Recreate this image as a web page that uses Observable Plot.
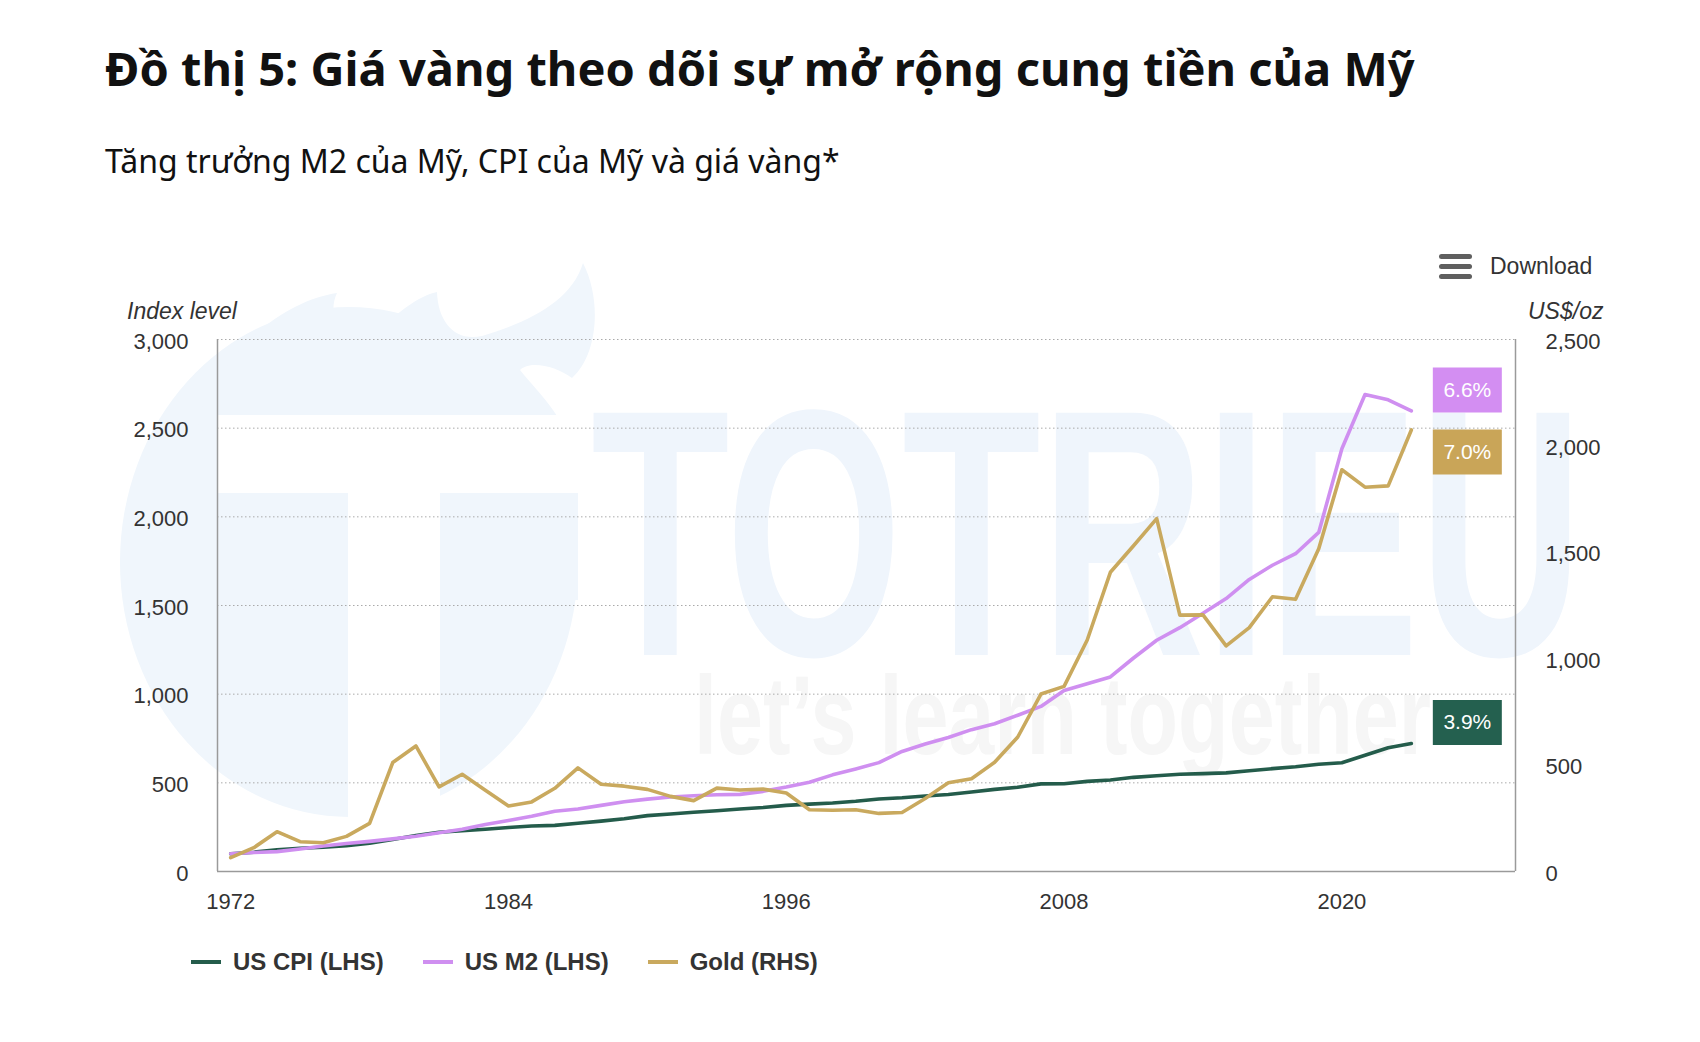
<!DOCTYPE html>
<html>
<head>
<meta charset="utf-8">
<script src="https://cdn.jsdelivr.net/npm/d3@7"></script>
<script src="https://cdn.jsdelivr.net/npm/@observablehq/plot@0.6"></script>
<style>
  html, body { margin: 0; padding: 0; background: #fff; }
  #page { position: relative; width: 1700px; height: 1042px; overflow: hidden; font-family: "Liberation Sans", Arial, sans-serif; }
  #watermark { position: absolute; left: 0; top: 0; }
  #title { position: absolute; left: 105px; top: 45px; font-family: "Noto Sans", sans-serif; font-weight: 700; font-size: 47px; line-height: 47px; color: #111; white-space: nowrap; }
  #subtitle { position: absolute; left: 105px; top: 145px; font-family: "Noto Sans", sans-serif; font-weight: 400; font-size: 32px; line-height: 32px; color: #111; white-space: nowrap; }
  #download { position: absolute; left: 1439px; top: 254px; display: flex; align-items: center; }
  #download .icon { width: 33px; height: 25px; position: relative; margin-right: 18px; }
  #download .icon span { position: absolute; left: 0; width: 33px; height: 5px; border-radius: 3px; background: #5f5f5f; }
  #download .txt { font-size: 23px; line-height: 23px; color: #333; }
  .axtitle { position: absolute; top: 300px; font-style: italic; font-size: 23px; line-height: 23px; color: #333; white-space: nowrap; }
  #chart { position: absolute; left: 0; top: 200px; }
  #legend { position: absolute; left: 191px; top: 950px; display: flex; align-items: center; gap: 39px; }
  #legend .item { display: flex; align-items: center; }
  #legend .sw { width: 30px; height: 4px; margin-right: 12px; }
  #legend .lab { font-weight: 700; font-size: 24px; line-height: 24px; color: #333; white-space: nowrap; }
</style>
</head>
<body>
<div id="page">
  <svg id="watermark" width="1700" height="1042">
    <ellipse cx="349" cy="562" rx="229" ry="255" fill="#f0f6fc"></ellipse>
    <path d="M196 420 C 230 340, 290 300, 337 293 C 328 312, 336 336, 360 342 C 392 322, 410 298, 437 292 C 438 322, 455 342, 482 336 C 530 322, 572 300, 583 263 C 602 300, 598 355, 572 378 C 556 366, 530 360, 520 370 C 540 395, 570 420, 578 470 L 578 600 L 300 600 Z" fill="#f0f6fc"></path>
    <rect x="217" y="415" width="376" height="78" fill="#fff"></rect>
    <rect x="348" y="493" width="92" height="340" fill="#fff"></rect>
    <text id="wm1" x="0" y="0" font-family="Liberation Sans Narrow, Liberation Sans, sans-serif" font-weight="700" font-size="352" fill="#eff5fc">TOTRIEU</text>
    <text id="wm2" x="0" y="0" font-family="Liberation Sans Narrow, Liberation Sans, sans-serif" font-weight="700" font-size="112" fill="#f6f6f6">let’s learn together</text>
  </svg>
  <div id="title">Đồ thị 5: Giá vàng theo dõi sự mở rộng cung tiền của Mỹ</div>
  <div id="subtitle">Tăng trưởng M2 của Mỹ, CPI của Mỹ và giá vàng*</div>
  <div id="download"><div class="icon"><span style="top:0"></span><span style="top:10px"></span><span style="top:20px"></span></div><div class="txt">Download</div></div>
  <div class="axtitle" style="left:127px">Index level</div>
  <div class="axtitle" style="left:1528px">US$/oz</div>
  <div id="chart"></div>
  <div id="legend"></div>
</div>
<script>
// ---- Data ----
const years = [1972,1973,1974,1975,1976,1977,1978,1979,1980,1981,1982,1983,1984,1985,1986,1987,1988,1989,1990,1991,1992,1993,1994,1995,1996,1997,1998,1999,2000,2001,2002,2003,2004,2005,2006,2007,2008,2009,2010,2011,2012,2013,2014,2015,2016,2017,2018,2019,2020,2021,2022,2023];
// US CPI index (1972 = 100), left axis
const cpi = [100,109,122,131,137,146,159,180,203,221,230,238,248,257,260,272,284,297,315,324,334,343,352,361,373,380,386,396,409,416,426,434,448,463,475,494,495,508,516,531,540,548,552,556,568,580,591,605,613,656,698,722];
// US M2 index (1972 = 100), left axis
const m2 = [100,107,112,127,144,158,170,184,199,219,238,265,288,311,340,352,373,393,408,420,427,433,435,452,476,503,545,578,614,677,719,756,800,833,881,931,1021,1059,1097,1204,1304,1375,1456,1539,1647,1727,1792,1912,2384,2690,2660,2597];
// Gold price, US$/oz, right axis
const gold = [65,112,187,140,135,165,226,512,590,398,457,382,308,327,391,487,410,401,386,353,333,392,383,387,369,290,288,290,273,277,343,417,436,513,632,834,870,1088,1406,1531,1658,1205,1206,1060,1146,1291,1279,1517,1888,1806,1812,2075];

const seriesNames = ["US CPI (LHS)", "US M2 (LHS)", "Gold (RHS)"];
const lineColors = ["#245c4b", "#cf8ff0", "#c9a95e"];
const boxColors = ["#24604f", "#d38ef2", "#c9a558"];
const growthLabels = ["3.9%", "6.6%", "7.0%"];
const leftTicks = [0, 500, 1000, 1500, 2000, 2500, 3000];
const rightTicks = [0, 500, 1000, 1500, 2000, 2500];
const xTicks = [1972, 1984, 1996, 2008, 2020];
const xDomain = [1971.43, 2027.5];
const leftMax = 3000, rightMax = 2500;
const ratio = leftMax / rightMax;

// ---- Watermark sizing (decorative) ----
function fitText(id, x, y, targetWidth) {
  const t = document.getElementById(id);
  const w = t.getComputedTextLength();
  t.setAttribute("transform", `translate(${x},${y}) scale(${targetWidth / w},1)`);
}
fitText("wm1", 591, 655, 992);
fitText("wm2", 694, 754, 737);

// ---- Table for Plot ----
const rows = [];
years.forEach((yr, i) => {
  rows.push({series: seriesNames[0], year: yr, value: cpi[i], pos: cpi[i]});
  rows.push({series: seriesNames[1], year: yr, value: m2[i], pos: m2[i]});
  rows.push({series: seriesNames[2], year: yr, value: gold[i], pos: gold[i] * ratio});
});
const lastRows = seriesNames.map((s, k) => Object.assign({label: growthLabels[k]}, rows.filter(r => r.series === s).at(-1)));
const labelDy = [-21, -21, 22];

const boxSymbol = {draw(ctx) { ctx.moveTo(-34.5, -22.5); ctx.lineTo(34.5, -22.5); ctx.lineTo(34.5, 22.5); ctx.lineTo(-34.5, 22.5); ctx.closePath(); }};
const fmt = d3.format(",");

const labelMarks = [];
seriesNames.forEach((s, k) => {
  labelMarks.push(Plot.dot([lastRows[k]], {x: "year", y: "pos", symbol: boxSymbol, fill: boxColors[k], stroke: "none", dx: 56, dy: labelDy[k]}));
  labelMarks.push(Plot.text([lastRows[k]], {x: "year", y: "pos", text: "label", fill: "#fff", fontSize: 21, dx: 56, dy: labelDy[k]}));
});

const chart = Plot.plot({
  width: 1700,
  height: 730,
  marginTop: 139,
  marginRight: 185,
  marginBottom: 59,
  marginLeft: 217,
  style: {fontFamily: "'Liberation Sans', Arial, sans-serif", background: "transparent", overflow: "visible"},
  x: {domain: xDomain},
  y: {domain: [0, leftMax]},
  color: {domain: seriesNames, range: lineColors},
  marks: [
    Plot.gridY(leftTicks.slice(1), {stroke: "#aaaaaa", strokeOpacity: 1, strokeWidth: 1, strokeDasharray: "1.5,2.5"}),
    Plot.ruleY([0], {stroke: "#9a9a9a", strokeWidth: 1.5}),
    Plot.ruleX(xDomain, {stroke: "#9a9a9a", strokeWidth: 1.5}),
    Plot.axisY(leftTicks, {anchor: "left", tickSize: 0, tickPadding: 29, tickFormat: fmt, fontSize: 22, fill: "#333", dy: 2, label: null}),
    Plot.axisY(rightTicks.map(t => t * ratio), {anchor: "right", tickSize: 0, tickPadding: 30, tickFormat: d => fmt(Math.round(d / ratio)), fontSize: 22, fill: "#333", dy: 2, label: null}),
    Plot.axisX(xTicks, {anchor: "bottom", tickSize: 0, tickPadding: 22, tickFormat: d => String(d), fontSize: 22, fill: "#333", label: null}),
    Plot.line(rows, {x: "year", y: "pos", z: "series", stroke: "series", strokeWidth: 3.6, strokeLinejoin: "round", strokeLinecap: "round"}),
    ...labelMarks
  ]
});
document.getElementById("chart").appendChild(chart);

// ---- Legend ----
const legend = document.getElementById("legend");
seriesNames.forEach((s, k) => {
  const item = document.createElement("div");
  item.className = "item";
  item.innerHTML = `<div class="sw" style="background:${lineColors[k]}"></div><div class="lab">${s}</div>`;
  legend.appendChild(item);
});
</script>
</body>
</html>
